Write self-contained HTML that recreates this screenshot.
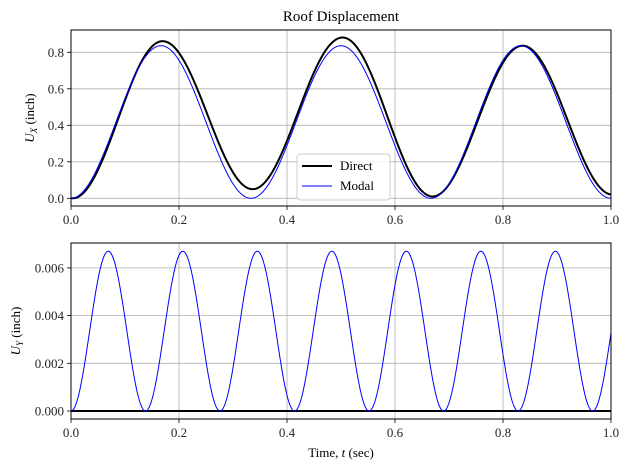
<!DOCTYPE html>
<html><head><meta charset="utf-8"><style>
body{margin:0;background:#fff}
svg{display:block;font-family:"Liberation Serif","DejaVu Serif",serif}
</style></head><body>
<svg id="s" width="630" height="470" xmlns="http://www.w3.org/2000/svg">
<rect width="630" height="470" fill="#fff"/>
<g id="grid" stroke="#b0b0b0" stroke-width="0.8"></g>
<g id="curves" fill="none"></g>
<g stroke="#000" stroke-width="1" fill="none">
<rect x="71" y="30" width="540" height="176"/>
<rect x="71" y="243" width="540" height="176"/>
</g>
<g id="ticks" stroke="#000" stroke-width="0.8"></g>
<g id="labels" font-size="13" fill="#262626"></g>
<text x="341" y="21" font-size="15" text-anchor="middle">Roof Displacement</text>
<text transform="translate(34,118) rotate(-90)" font-size="13" text-anchor="middle"><tspan font-style="italic">U</tspan><tspan font-size="9" font-style="italic" dy="3">X</tspan><tspan dy="-3"> (inch)</tspan></text>
<text transform="translate(20,331) rotate(-90)" font-size="13" text-anchor="middle"><tspan font-style="italic">U</tspan><tspan font-size="9" font-style="italic" dy="3">Y</tspan><tspan dy="-3"> (inch)</tspan></text>
<text x="341" y="457" font-size="13" text-anchor="middle">Time, <tspan font-style="italic">t</tspan> (sec)</text>
<g>
<rect x="297" y="154" width="93" height="46" rx="3" fill="#fff" fill-opacity="0.85" stroke="#ccc"/>
<line x1="302" y1="166" x2="332" y2="166" stroke="#000" stroke-width="2"/>
<line x1="302" y1="186" x2="332" y2="186" stroke="#00f" stroke-width="1"/>
<text x="340" y="170" font-size="13">Direct</text>
<text x="340" y="190" font-size="13">Modal</text>
</g>
</svg>
<script>
const X=t=>71+540*t, Yt=v=>198.3-182.5*v, Yb=v=>411-23850*v;
const ns="http://www.w3.org/2000/svg";
function el(p,tag,a,txt){const e=document.createElementNS(ns,tag);for(const k in a)e.setAttribute(k,a[k]);if(txt!=null)e.textContent=txt;document.getElementById(p).appendChild(e);}
for(let i=0;i<=5;i++){const x=X(i*0.2);
 el("grid","line",{x1:x,y1:30,x2:x,y2:206});el("grid","line",{x1:x,y1:243,x2:x,y2:419});
 el("ticks","line",{x1:x,y1:206,x2:x,y2:210});el("ticks","line",{x1:x,y1:419,x2:x,y2:423});
 el("labels","text",{x:x,y:224,"text-anchor":"middle"},(i*0.2).toFixed(1));
 el("labels","text",{x:x,y:437,"text-anchor":"middle"},(i*0.2).toFixed(1));}
for(let i=0;i<=4;i++){const v=i*0.2,y=Yt(v);
 el("grid","line",{x1:71,y1:y,x2:611,y2:y});el("ticks","line",{x1:67,y1:y,x2:71,y2:y});
 el("labels","text",{x:64,y:y+4.5,"text-anchor":"end"},v.toFixed(1));}
for(let i=0;i<=3;i++){const v=i*0.002,y=Yb(v);
 el("grid","line",{x1:71,y1:y,x2:611,y2:y});el("ticks","line",{x1:67,y1:y,x2:71,y2:y});
 el("labels","text",{x:64,y:y+4.5,"text-anchor":"end"},v.toFixed(3));}
const w=2*Math.PI/0.3333;
const dk=[[0,0],[.17,.025],[.33,.05],[.5,.045],[.67,.01],[.835,0],[1,.02]];
function d(t){for(let i=0;i<dk.length-1;i++){const[a,va]=dk[i],[b,vb]=dk[i+1];if(t<=b){const s=(t-a)/(b-a),c=(1-Math.cos(Math.PI*s))/2;return va+(vb-va)*c;}}return .02;}
let pm="",pd="",pb="";
for(let i=0;i<=600;i++){const t=i/600;
 const m=0.418*(1-Math.cos(w*t));
 const dr=0.418*(1-Math.cos(w*(t-0.003)))+d(t)*Math.min(1,t*8);
 pm+=(i?"L":"M")+X(t).toFixed(2)+" "+Yt(m).toFixed(2);
 pd+=(i?"L":"M")+X(t).toFixed(2)+" "+Yt(Math.max(0,dr)).toFixed(2);
 pb+=(i?"L":"M")+X(t).toFixed(2)+" "+Yb(0.00335*(1-Math.cos(2*Math.PI*t/0.138))).toFixed(2);}
el("curves","path",{d:pd,stroke:"#000","stroke-width":2});
el("curves","path",{d:pm,stroke:"#00f","stroke-width":1});
el("curves","line",{x1:71,y1:Yb(0),x2:611,y2:Yb(0),stroke:"#000","stroke-width":2});
el("curves","path",{d:pb,stroke:"#00f","stroke-width":1});
</script>
</body></html>
